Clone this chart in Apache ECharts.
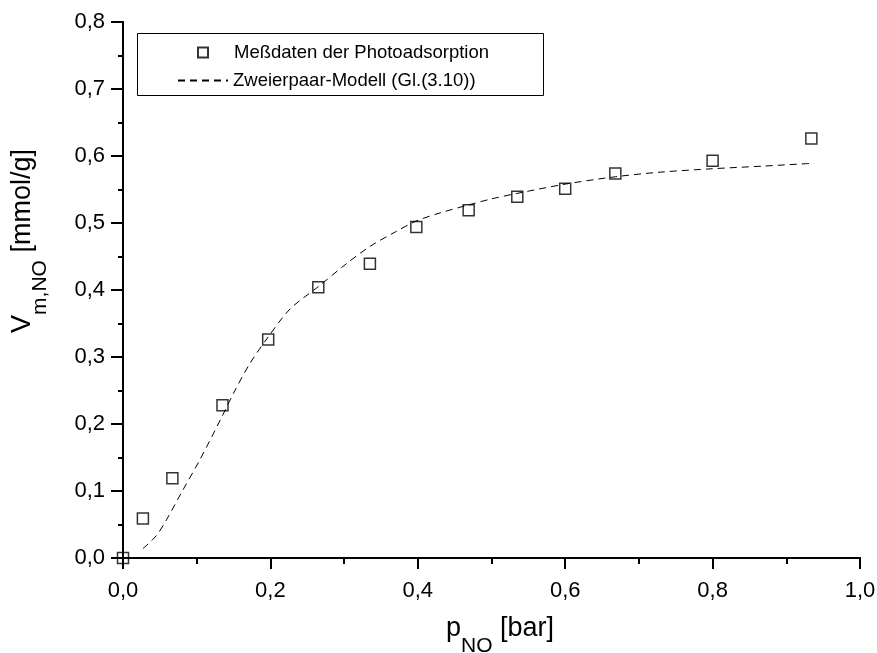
<!DOCTYPE html>
<html>
<head>
<meta charset="utf-8">
<script src="https://cdn.jsdelivr.net/npm/echarts@6/dist/echarts.min.js"></script>
<style>
  html, body { margin: 0; padding: 0; background: #fff; }
  #chart { width: 877px; height: 653px; }
</style>
</head>
<body>
<div id="chart"></div>
<script>
// measured points
const pressure = [0, 0.027, 0.067, 0.135, 0.197, 0.265, 0.335, 0.398, 0.469, 0.535, 0.600, 0.668, 0.800, 0.934];
const volume = [0, 0.059, 0.119, 0.228, 0.326, 0.404, 0.439, 0.494, 0.519, 0.539, 0.551, 0.574, 0.593, 0.626];

// model curve (Zweierpaar-Modell)
const modelP = [0.027, 0.045, 0.059, 0.08, 0.104, 0.132, 0.150, 0.172, 0.197, 0.227, 0.265, 0.304, 0.335, 0.37, 0.398, 0.43, 0.469, 0.5, 0.534, 0.6, 0.668, 0.73, 0.8, 0.87, 0.934];
const modelV = [0.014, 0.033, 0.057, 0.099, 0.146, 0.206, 0.246, 0.290, 0.330, 0.372, 0.405, 0.440, 0.465, 0.487, 0.503, 0.515, 0.527, 0.536, 0.544, 0.558, 0.569, 0.576, 0.581, 0.585, 0.589];

const seriesNames = ['Meßdaten der Photoadsorption', 'Zweierpaar-Modell (Gl.(3.10))'];

const fontFam = '"Liberation Sans", Arial, sans-serif';
const comma = v => v.toFixed(1).replace('.', ',');

const chart = echarts.init(document.getElementById('chart'));

const titleRich = {
    m: { fontSize: 27, fontFamily: fontFam, color: '#000', lineHeight: 56, verticalAlign: 'middle' },
    s: { fontSize: 21, fontFamily: fontFam, color: '#000', lineHeight: 56, verticalAlign: 'bottom' }
};

const option = {
    backgroundColor: '#fff',
    animation: false,
    textStyle: { fontFamily: fontFam, color: '#000' },
    grid: { left: 123, right: 17, top: 22, bottom: 95, outerBoundsMode: 'none' },
    graphic: [
        {
            type: 'rect',
            left: 137,
            top: 33,
            shape: { width: 406, height: 62 },
            style: { fill: '#fff', stroke: '#000', lineWidth: 1 },
            z: 10
        }
    ],
    legend: [
        {
            left: 192,
            top: 38,
            itemWidth: 10,
            itemHeight: 10,
            textStyle: { fontSize: 18.5, color: '#000', fontFamily: fontFam, padding: [0, 0, 0, 21] },
            data: [seriesNames[0]],
            z: 11
        },
        {
            left: 172,
            top: 66,
            itemWidth: 50,
            itemHeight: 12,
            itemStyle: { opacity: 0 },
            textStyle: { fontSize: 18.5, color: '#000', fontFamily: fontFam },
            data: [seriesNames[1]],
            z: 11
        }
    ],
    xAxis: [
        {
            type: 'value',
            min: 0,
            max: 1,
            interval: 0.2,
            name: '{m|p}{s|NO}{m| [bar]}',
            nameLocation: 'middle',
            nameGap: 43,
            nameTextStyle: { rich: titleRich, padding: [0, 0, 0, 17] },
            axisLine: { lineStyle: { color: '#000', width: 2 } },
            axisTick: { inside: false, length: 11, lineStyle: { color: '#000', width: 2 } },
            minorTick: { show: true, splitNumber: 2, length: 6, lineStyle: { color: '#000', width: 2 } },
            splitLine: { show: false },
            axisLabel: { margin: 22, fontSize: 22, color: '#000', formatter: comma }
        },
        {
            type: 'value',
            position: 'top',
            min: 0,
            max: 1,
            interval: 0.1,
            axisLine: { show: true, lineStyle: { color: '#000', width: 2 } },
            axisTick: { show: true, inside: true, length: 3, lineStyle: { color: '#000' } },
            axisLabel: { show: false },
            splitLine: { show: false }
        }
    ],
    yAxis: [
        {
            type: 'value',
            min: 0,
            max: 0.8,
            interval: 0.1,
            name: '{m|V}{s|m,NO}{m| [mmol/g]}',
            nameLocation: 'middle',
            nameRotate: 90,
            nameGap: 72,
            nameTextStyle: { rich: titleRich, padding: [0, 0, 0, 98] },
            axisLine: { lineStyle: { color: '#000', width: 2 } },
            axisTick: { inside: false, length: 12, lineStyle: { color: '#000', width: 2 } },
            minorTick: { show: true, splitNumber: 2, length: 5, lineStyle: { color: '#000', width: 2 } },
            splitLine: { show: false },
            axisLabel: { margin: 18, fontSize: 22, color: '#000', formatter: comma }
        },
        {
            type: 'value',
            position: 'right',
            min: 0,
            max: 0.8,
            interval: 0.05,
            axisLine: { show: true, lineStyle: { color: '#000', width: 2 } },
            axisTick: { show: true, inside: true, length: 3, lineStyle: { color: '#000' } },
            axisLabel: { show: false },
            splitLine: { show: false }
        }
    ],
    series: [
        {
            name: seriesNames[0],
            type: 'scatter',
            symbol: 'rect',
            symbolSize: 11,
            itemStyle: { color: 'rgba(255,255,255,0)', borderColor: '#000', borderWidth: 1.5 },
            data: pressure.map((p, i) => [p, volume[i]]),
            z: 3
        },
        {
            name: seriesNames[1],
            type: 'line',
            smooth: 0.3,
            symbol: 'none',
            lineStyle: { color: '#000', width: 1, type: [7, 5] },
            itemStyle: { color: '#000' },
            data: modelP.map((p, i) => [p, modelV[i]]),
            z: 2
        }
    ]
};

chart.setOption(option);
</script>
</body>
</html>
